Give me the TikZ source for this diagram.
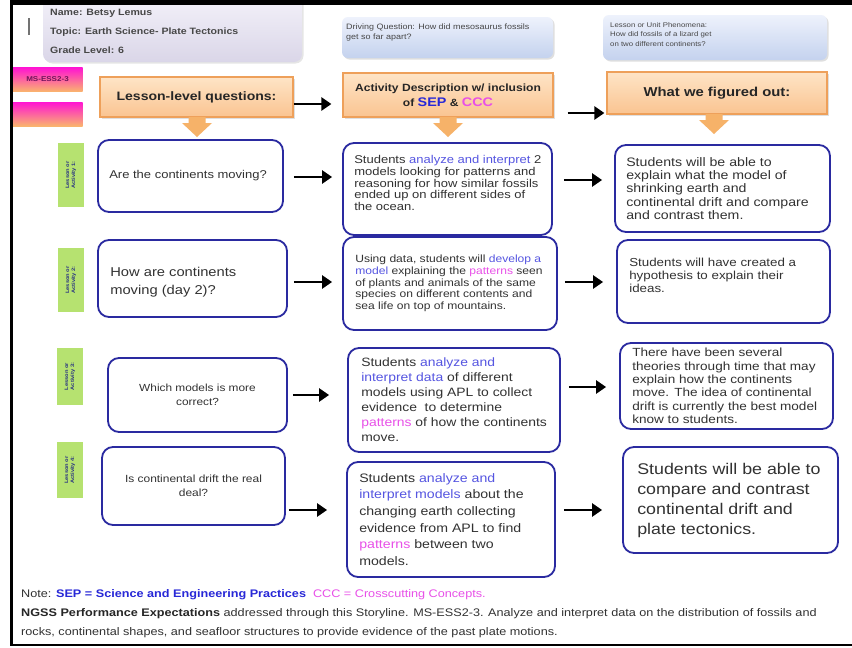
\documentclass[tikz,border=0pt]{standalone}
\usepackage{fontspec}
\setmainfont{Liberation Sans}[FakeStretch=1.15]
\usetikzlibrary{arrows.meta,shadows}
\definecolor{boxblue}{RGB}{42,42,160}
\definecolor{txtgrey}{RGB}{50,50,50}
\definecolor{sepblue}{RGB}{85,85,225}
\definecolor{sephead}{RGB}{40,40,215}
\definecolor{cccmag}{RGB}{232,80,232}
\definecolor{orfillT}{RGB}{254,228,198}
\definecolor{orfillB}{RGB}{250,196,145}
\definecolor{ordraw}{RGB}{238,160,90}
\definecolor{arrfill}{RGB}{246,178,105}
\definecolor{magT}{RGB}{255,20,210}
\definecolor{magB}{RGB}{250,180,110}
\definecolor{magtxt}{RGB}{110,20,90}
\definecolor{lime}{RGB}{182,226,112}
\definecolor{limetxt}{RGB}{40,50,130}
\definecolor{infoT}{RGB}{244,242,250}
\definecolor{infoB}{RGB}{218,214,232}
\definecolor{dqT}{RGB}{238,242,252}
\definecolor{dqB}{RGB}{196,210,238}
\newcommand{\fsz}[2]{\fontsize{#1}{#2}\selectfont}
\newcommand{\sepx}[1]{\textcolor{sepblue}{#1}}
\newcommand{\cccx}[1]{\textcolor{cccmag}{#1}}
\begin{document}
\begin{tikzpicture}[x=1pt,y=-1pt,
  rbox/.style={draw=boxblue, line width=1.8pt, rounded corners=11pt, fill=white, inner sep=0pt},
  rtext/.style={anchor=west, align=left, text=txtgrey, inner sep=0pt},
  obox/.style={draw=ordraw, line width=1.2pt, top color=orfillT, bottom color=orfillB, text=black!85, align=center, inner sep=0pt, font=\bfseries, drop shadow={opacity=0.25,shadow xshift=1.5pt,shadow yshift=-1.5pt}},
  conn/.style={line width=2.8pt, -{Triangle[length=10pt,width=13pt]}},
  glabel/.style={fill=lime, rotate=90, text=limetxt, align=center, inner sep=0pt, minimum height=26pt, font=\fsz{5}{6}\bfseries},
  mbox/.style={top color=magT, bottom color=magB, minimum width=70pt, minimum height=24pt, inner sep=0pt, text=magtxt, font=\fsz{7}{8}\bfseries},
  topbox/.style={rounded corners=6pt, inner sep=0pt, top color=dqT, bottom color=dqB, drop shadow={opacity=0.25,shadow xshift=1.5pt,shadow yshift=-1.5pt}},
  smalltxt/.style={anchor=north west, align=left, inner sep=0pt, text=black!72},
  dnarrow/.pic={\fill[arrfill] (-8.5,0) -- (-8.5,6) -- (-15,6) -- (0,20) -- (15,6) -- (8.5,6) -- (8.5,0) -- cycle;}
]
\useasboundingbox (0,0) rectangle (852,648);
\fill[white] (0,0) rectangle (852,648);

% info box
\node[rounded corners=8pt, top color=infoT, bottom color=infoB, minimum width=259pt, minimum height=68pt, inner sep=0pt,
  drop shadow={opacity=0.2,shadow xshift=1.5pt,shadow yshift=-1.5pt}] (info) at (172.5,28) {};
\fill[black!55] (27.5,18) rectangle (30,35);
\node[anchor=base west, inner sep=0pt, font=\fsz{9.2}{11}\bfseries, text=black!72] (nm) at (50,15) {Name: Betsy Lemus};
\node[anchor=base west, inner sep=0pt, font=\fsz{9.2}{11}\bfseries, text=black!72] (tp) at (50,34) {Topic: Earth Science- Plate Tectonics};
\node[anchor=base west, inner sep=0pt, font=\fsz{9.2}{11}\bfseries, text=black!72] (gl) at (50,53) {Grade Level: 6};

% top boxes
\node[topbox, minimum width=211pt, minimum height=41pt] (dq) at (447.5,37.5) {};
\node[smalltxt, font=\fsz{7.8}{10}] (dqt) at (346,24) {Driving Question: How did mesosaurus fossils\\get so far apart?};
\node[topbox, minimum width=224pt, minimum height=45pt] (ph) at (715,37.5) {};
\node[smalltxt, font=\fsz{6.8}{9.5}] (pht) at (610,22) {Lesson or Unit Phenomena:\\How did fossils of a lizard get\\on two different continents?};

% magenta
\node[mbox] (ms1) at (47.5,79.5) {MS-ESS2-3};
\node[mbox] (ms2) at (47.5,114) {};

% orange headers
\node[obox, minimum width=193pt, minimum height=40pt, font=\fsz{12.2}{14}\bfseries] (llq) at (196.5,97) {Lesson-level questions:};
\node[obox, minimum width=210pt, minimum height=44pt, font=\fsz{10.5}{15}\bfseries] (act) at (448,95)
  {Activity Description w/ inclusion\\of {\fsz{12.5}{15}\color{sephead}SEP} \& {\fsz{12.5}{15}\color{cccmag}CCC}};
\node[obox, minimum width=220pt, minimum height=42pt, font=\fsz{12.9}{15}\bfseries] (wwf) at (717,93) {What we figured out:};
\pic at (197,117) {dnarrow};
\pic at (448,117) {dnarrow};
\pic at (714,114) {dnarrow};
\draw[conn, shorten >=11pt] (llq.east |- 0,104) -- (act.west |- 0,104);
\draw[conn, shorten <=14pt, shorten >=2pt] (act.east |- 0,113) -- (wwf.west |- 0,113);

% green labels
\node[glabel, minimum width=64pt] (g1) at (71,175) {Lesson or\\Activity 1:};
\node[glabel, minimum width=64pt] (g2) at (71,280) {Lesson or\\Activity 2:};
\node[glabel, minimum width=57pt] (g3) at (70,376.5) {Lesson or\\Activity 3:};
\node[glabel, minimum width=56pt] (g4) at (70,470) {Lesson or\\Activity 4:};

% row 1
\node[rbox, minimum width=185pt, minimum height=72pt] (q1) at (190.5,176) {};
\node[rtext, font=\fsz{11.3}{13}] (q1t) at ([xshift=12pt]q1.west) {Are the continents moving?};
\node[rbox, minimum width=209pt, minimum height=92pt] (a1) at (447.5,189) {};
\node[rtext, font=\fsz{11.3}{11.7}] (a1t) at ([xshift=12pt,yshift=6pt]a1.west)
  {Students \sepx{analyze and interpret} 2\\models looking for patterns and\\reasoning for how similar fossils\\ended up on different sides of\\the ocean.};
\node[rbox, minimum width=215pt, minimum height=87pt] (r1) at (722.5,188.5) {};
\node[rtext, font=\fsz{12.3}{13.3}] (r1t) at ([xshift=12pt]r1.west)
  {Students will be able to\\explain what the model of\\shrinking earth and\\continental drift and compare\\and contrast them.};
\draw[conn, shorten <=10pt, shorten >=10pt] (q1.east |- 0,177) -- (a1.west |- 0,177);
\draw[conn, shorten <=11pt, shorten >=12pt] (a1.east |- 0,180) -- (r1.west |- 0,180);

% row 2
\node[rbox, minimum width=189pt, minimum height=77pt] (q2) at (192.5,278.5) {};
\node[rtext, font=\fsz{12.8}{17.7}] (q2t) at ([xshift=13pt,yshift=-4pt]q2.west) {How are continents\\moving (day 2)?};
\node[rbox, minimum width=214pt, minimum height=93pt] (a2) at (450,283.5) {};
\node[rtext, font=\fsz{10.5}{11.7}] (a2t) at ([xshift=13pt]a2.west)
  {Using data, students will \sepx{develop a}\\\sepx{model} explaining the \cccx{patterns} seen\\of plants and animals of the same\\species on different contents and\\sea life on top of mountains.};
\node[rbox, minimum width=213pt, minimum height=83pt] (r2) at (723.5,281.5) {};
\node[rtext, font=\fsz{11.6}{13.3}] (r2t) at ([xshift=13pt,yshift=6pt]r2.west)
  {Students will have created a\\hypothesis to explain their\\ideas.};
\draw[conn, shorten <=6pt, shorten >=10pt] (q2.east |- 0,282) -- (a2.west |- 0,282);
\draw[conn, shorten <=7pt, shorten >=13pt] (a2.east |- 0,282) -- (r2.west |- 0,282);

% row 3
\node[rbox, minimum width=179pt, minimum height=74pt, align=center, text=txtgrey, font=\fsz{10.3}{13.5}] (q3) at (197.5,395) {Which models is more\\correct?};
\node[rbox, minimum width=212pt, minimum height=104pt] (a3) at (454,400) {};
\node[rtext, font=\fsz{12.1}{15}] (a3t) at ([xshift=14pt]a3.west)
  {Students \sepx{analyze and}\\\sepx{interpret data} of different\\models using APL to collect\\evidence\ \ to determine\\\cccx{patterns} of how the continents\\move.};
\node[rbox, minimum width=213pt, minimum height=86pt] (r3) at (726.5,386) {};
\node[rtext, font=\fsz{11.8}{13.3}] (r3t) at ([xshift=13pt]r3.west)
  {There have been several\\theories through time that may\\explain how the continents\\move. The idea of continental\\drift is currently the best model\\know to students.};
\draw[conn, shorten <=5pt, shorten >=18pt] (q3.east |- 0,395) -- (a3.west |- 0,395);
\draw[conn, shorten <=8pt, shorten >=13pt] (a3.east |- 0,387) -- (r3.west |- 0,387);

% row 4
\node[rbox, minimum width=183pt, minimum height=78pt, align=center, text=txtgrey, font=\fsz{10.4}{13.5}] (q4) at (193.5,486) {Is continental drift the real\\deal?};
\node[rbox, minimum width=208pt, minimum height=115pt] (a4) at (451,519.5) {};
\node[rtext, font=\fsz{12.3}{16.7}] (a4t) at ([xshift=13pt]a4.west)
  {Students \sepx{analyze and}\\\sepx{interpret models} about the\\changing earth collecting\\evidence from APL to find\\\cccx{patterns} between two\\models.};
\node[rbox, minimum width=215pt, minimum height=106pt] (r4) at (730.5,500) {};
\node[rtext, font=\fsz{15.5}{20}] (r4t) at ([xshift=15pt]r4.west)
  {Students will be able to\\compare and contrast\\continental drift and\\plate tectonics.};
\draw[conn, shorten <=3pt, shorten >=19pt] (q4.east |- 0,510) -- (a4.west |- 0,510);
\draw[conn, shorten <=8pt, shorten >=20pt] (a4.east |- 0,510) -- (r4.west |- 0,510);

% notes
\node[anchor=base west, inner sep=0pt, font=\fsz{11}{12}, text=txtgrey] (n1) at (21,597)
  {Note: \textbf{\color{sephead}SEP = Science and Engineering Practices}\ \ {\color{cccmag}CCC = Crosscutting Concepts.}};
\node[anchor=base west, inner sep=0pt, font=\fsz{11}{12}, text=txtgrey] (n2) at (21,616)
  {\textbf{\color{black!85}NGSS Performance Expectations} addressed through this Storyline. MS-ESS2-3. Analyze and interpret data on the distribution of fossils and};
\node[anchor=base west, inner sep=0pt, font=\fsz{11}{12}, text=txtgrey] (n3) at (21,635)
  {rocks, continental shapes, and seafloor structures to provide evidence of the past plate motions.};

% frame
\fill[black] (10,0) rectangle (852,5);
\fill[black] (10,0) rectangle (13,646);
\fill[black] (10,643.5) rectangle (852,646);
\end{tikzpicture}
\end{document}
